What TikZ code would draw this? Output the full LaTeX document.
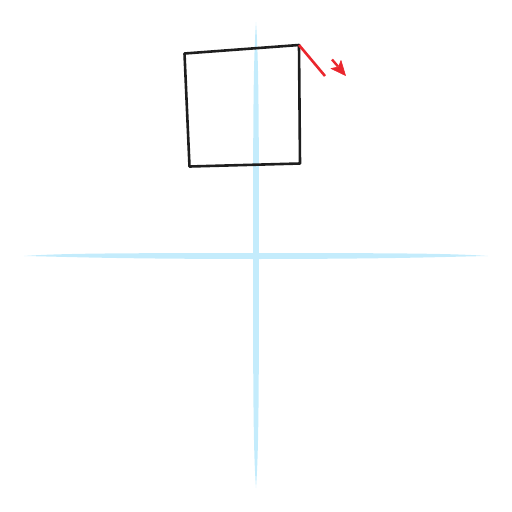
\documentclass[tikz,border=0pt]{standalone}
\usetikzlibrary{arrows.meta}
\definecolor{axisblue}{RGB}{196,236,252}
\definecolor{redline}{RGB}{234,38,45}
\definecolor{boxblack}{RGB}{30,30,30}
\tikzset{
  axisfill/.style={fill=axisblue,draw=none},
  boxline/.style={draw=boxblack,line width=2.6pt,line join=round},
  redstroke/.style={draw=redline,line width=2.6pt},
  redhead/.style={fill=redline,draw=redline,line width=0.6pt,line join=round},
}
\begin{document}
\begin{tikzpicture}[x=1pt,y=-1pt]
\useasboundingbox (0,0) rectangle (512,512);
% horizontal axis (tapered)
\path[axisfill] (24,256) .. controls (60,253.4) and (110,253.1) .. (256,253)
  .. controls (402,253.1) and (452,253.4) .. (488,256)
  .. controls (452,256.6) and (402,258.9) .. (256,259)
  .. controls (110,258.9) and (60,256.6) .. (24,256) -- cycle;
% vertical axis (tapered)
\path[axisfill] (256,22) .. controls (253.4,60) and (253.1,110) .. (253,256)
  .. controls (253.1,402) and (253.4,452) .. (256,488)
  .. controls (258.6,452) and (258.9,402) .. (259,256)
  .. controls (258.9,110) and (258.6,60) .. (256,22) -- cycle;
% square
\coordinate (tl) at (184.5,53.5);
\coordinate (tr) at (299,45);
\coordinate (br) at (300,163.5);
\coordinate (bl) at (189.5,166.5);
\draw[boxline] (tl) -- (tr) -- (br) -- (bl) -- cycle;
% red line and small arrow
\coordinate (r2) at (325,76);
\draw[redstroke] (tr) -- (r2);
\coordinate (s1) at (332,59.5);
\coordinate (s2) at (338,66.5);
\draw[draw=redline,line width=2.4pt] (s1) -- (s2);
\coordinate (tip) at (345.5,75.5);
\coordinate (w1) at (341,60.5);
\coordinate (w2) at (331,68.5);
\coordinate (nt) at (338.5,67);
\path[redhead] (tip) -- (w1) -- (nt) -- (w2) -- cycle;
\end{tikzpicture}
\end{document}
